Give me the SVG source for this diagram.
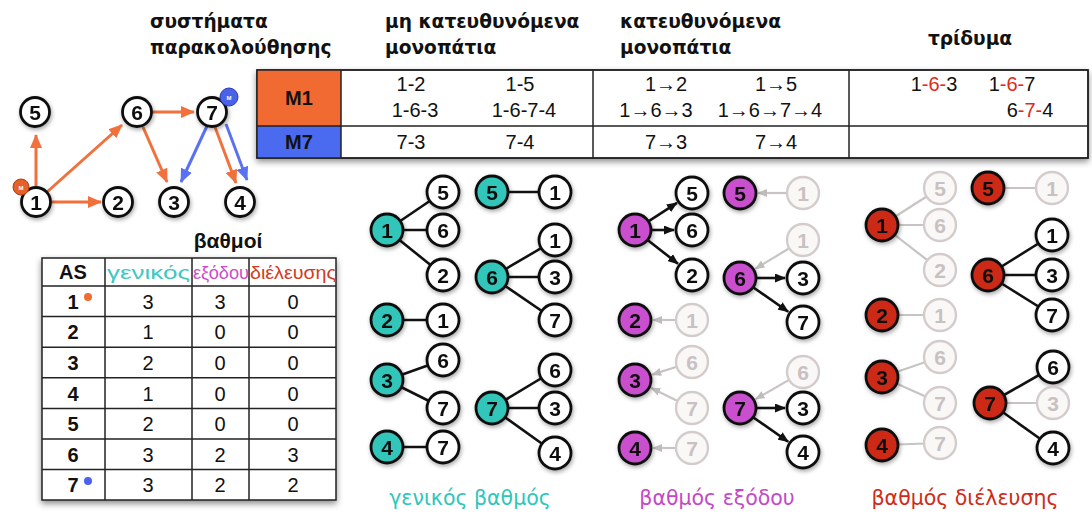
<svg xmlns="http://www.w3.org/2000/svg" width="1092" height="516" viewBox="0 0 1092 516">
<defs>
<style>
text{font-family:"Liberation Sans",Arial,sans-serif}
.h{font-family:"DejaVu Sans","Liberation Sans",sans-serif;font-weight:bold;font-size:18.6px;fill:#111}
.n circle{fill:#fff;stroke:#111;stroke-width:2.8}
.n text{font-weight:bold;font-size:21px;text-anchor:middle;fill:#111}
.f circle{fill:#faf7f7;stroke:#d4cccc;stroke-width:2.4}
.f text{font-weight:bold;font-size:21px;text-anchor:middle;fill:#c9c1c1}
.cy circle{fill:#31c6bb}
.pu circle{fill:#c94fcf}
.rd circle{fill:#cc2a14}
.tt{font-size:20px;text-anchor:middle;fill:#111}
.red{fill:#e02a1a}
.dt{font-size:20px;text-anchor:middle;fill:#111}
.oe{stroke:#f2703c;stroke-width:3;fill:none}
.be{stroke:#5a72f2;stroke-width:3;fill:none}
.ke{stroke:#111;stroke-width:2.6;fill:none}
.ge{stroke:#c8c4c4;stroke-width:2.2;fill:none}
.lab{font-family:"DejaVu Sans","Liberation Sans",sans-serif;font-size:20.5px;text-anchor:middle}
</style>
<filter id="sh" x="-50%" y="-50%" width="200%" height="200%"><feDropShadow dx="1" dy="2" stdDeviation="2" flood-color="#000" flood-opacity="0.35"/></filter>
<filter id="tsh" x="-5%" y="-20%" width="110%" height="150%"><feDropShadow dx="0" dy="3" stdDeviation="3" flood-color="#000" flood-opacity="0.45"/></filter>
<marker id="ao" viewBox="0 0 14 12" refX="13" refY="6" markerWidth="14" markerHeight="12" markerUnits="userSpaceOnUse" orient="auto"><path d="M0,0L14,6L0,12z" fill="#f2703c"/></marker>
<marker id="ab" viewBox="0 0 14 12" refX="13" refY="6" markerWidth="14" markerHeight="12" markerUnits="userSpaceOnUse" orient="auto"><path d="M0,0L14,6L0,12z" fill="#5a72f2"/></marker>
<marker id="ak" viewBox="0 0 11 9" refX="10" refY="4.5" markerWidth="11" markerHeight="9" markerUnits="userSpaceOnUse" orient="auto"><path d="M0,0L11,4.5L0,9z" fill="#111"/></marker>
<marker id="ag" viewBox="0 0 10 8" refX="9" refY="4" markerWidth="10" markerHeight="8" markerUnits="userSpaceOnUse" orient="auto"><path d="M0,0L10,4L0,8z" fill="#c0bcbc"/></marker>
</defs>
<rect width="1092" height="516" fill="#fff"/>

<!-- headers -->
<text class="h" x="150" y="28">συστήματα</text>
<text class="h" x="150" y="54">παρακολούθησης</text>
<text class="h" x="385" y="28">μη κατευθυνόμενα</text>
<text class="h" x="385" y="54">μονοπάτια</text>
<text class="h" x="620" y="28">κατευθυνόμενα</text>
<text class="h" x="620" y="54">μονοπάτια</text>
<text class="h" x="970" y="45" text-anchor="middle">τρίδυμα</text>

<!-- paths table -->
<g id="paths-table">
<rect x="257" y="70" width="831" height="88" fill="#fff" stroke="#222" stroke-width="1.5" filter="url(#tsh)"/>
<rect x="257" y="70" width="84" height="56" fill="#f06a32"/>
<rect x="257" y="126" width="84" height="32" fill="#4a6af0"/>
<g stroke="#222" stroke-width="1.5" fill="none">
<rect x="257" y="70" width="831" height="88"/>
<line x1="341" y1="70" x2="341" y2="158"/>
<line x1="593" y1="70" x2="593" y2="158"/>
<line x1="849" y1="70" x2="849" y2="158"/>
<line x1="257" y1="126" x2="1088" y2="126"/>
</g>
<text x="299" y="105" font-weight="bold" font-size="20" text-anchor="middle" fill="#111">M1</text>
<text x="299" y="149" font-weight="bold" font-size="20" text-anchor="middle" fill="#111">M7</text>
<text class="tt" x="411" y="91">1-2</text>
<text class="tt" x="520" y="91">1-5</text>
<text class="tt" x="415" y="117">1-6-3</text>
<text class="tt" x="524" y="117">1-6-7-4</text>
<text class="tt" x="411" y="149">7-3</text>
<text class="tt" x="520" y="149">7-4</text>
<text class="tt" x="666" y="91">1→2</text>
<text class="tt" x="776" y="91">1→5</text>
<text class="tt" x="656" y="117">1→6→3</text>
<text class="tt" x="770" y="117">1→6→7→4</text>
<text class="tt" x="666" y="149">7→3</text>
<text class="tt" x="776" y="149">7→4</text>
<text class="tt" x="934" y="91">1<tspan class="red">-6-</tspan>3</text>
<text class="tt" x="1012" y="91">1<tspan class="red">-6-</tspan>7</text>
<text class="tt" x="1030" y="117">6<tspan class="red">-7-</tspan>4</text>
</g>

<!-- top-left graph -->
<g id="monitor-connectors">
<line class="oe" x1="36" y1="186" x2="36" y2="135" marker-end="url(#ao)"/>
<line class="oe" x1="47" y1="192" x2="122" y2="125" marker-end="url(#ao)"/>
<line class="oe" x1="52" y1="202" x2="101" y2="202" marker-end="url(#ao)"/>
<line class="oe" x1="152" y1="112" x2="194" y2="112" marker-end="url(#ao)"/>
<line class="oe" x1="143" y1="127" x2="167" y2="182" marker-end="url(#ao)"/>
<line class="oe" x1="215" y1="127" x2="236" y2="183" marker-end="url(#ao)"/>
<line class="be" x1="207" y1="126" x2="181" y2="182" marker-end="url(#ab)"/>
<line class="be" x1="226" y1="124" x2="247" y2="180" marker-end="url(#ab)"/>
</g>
<g id="g5" class="n" filter="url(#sh)"><circle cx="35" cy="112" r="14.5"/><text x="35" y="119.5">5</text></g>
<g id="g6" class="n" filter="url(#sh)"><circle cx="137" cy="112" r="14.5"/><text x="137" y="119.5">6</text></g>
<g id="g7" class="n" filter="url(#sh)"><circle cx="212" cy="112" r="14.5"/><text x="212" y="119.5">7</text></g>
<g id="g1" class="n" filter="url(#sh)"><circle cx="36" cy="202" r="14.5"/><text x="36" y="209.5">1</text></g>
<g id="g2" class="n" filter="url(#sh)"><circle cx="118" cy="202" r="14.5"/><text x="118" y="209.5">2</text></g>
<g id="g3" class="n" filter="url(#sh)"><circle cx="174" cy="202" r="14.5"/><text x="174" y="209.5">3</text></g>
<g id="g4" class="n" filter="url(#sh)"><circle cx="240" cy="202" r="14.5"/><text x="240" y="209.5">4</text></g>
<g id="m1-badge"><circle cx="21" cy="187" r="8" fill="#e5602a" stroke="#b04010" stroke-width="1"/><text x="21" y="190" font-size="6" font-weight="bold" text-anchor="middle" fill="#fff">M</text></g>
<g id="m7-badge"><circle cx="229" cy="97" r="9" fill="#4a62e8" stroke="#2a3ab0" stroke-width="1"/><text x="229" y="100" font-size="6" font-weight="bold" text-anchor="middle" fill="#fff">M</text></g>

<!-- degree table -->
<g id="degree-table">
<text x="228" y="248" font-weight="bold" font-size="21" text-anchor="middle" fill="#111">βαθμοί</text>
<rect x="42" y="258" width="294" height="242" fill="#fff" stroke="#222" stroke-width="1.5" filter="url(#tsh)"/>
<g stroke="#222" stroke-width="1.5">
<line x1="105" y1="258" x2="105" y2="500"/>
<line x1="192" y1="258" x2="192" y2="500"/>
<line x1="249" y1="258" x2="249" y2="500"/>
<line x1="42" y1="286" x2="336" y2="286"/>
<line x1="42" y1="316.6" x2="336" y2="316.6"/>
<line x1="42" y1="347.2" x2="336" y2="347.2"/>
<line x1="42" y1="377.8" x2="336" y2="377.8"/>
<line x1="42" y1="408.4" x2="336" y2="408.4"/>
<line x1="42" y1="439" x2="336" y2="439"/>
<line x1="42" y1="469.6" x2="336" y2="469.6"/>
</g>
<text x="73" y="279" font-weight="bold" font-size="20" text-anchor="middle" fill="#111">AS</text>
<text x="107" y="279" font-size="19" textLength="83" lengthAdjust="spacingAndGlyphs" fill="#3ec8c0">γενικός</text>
<text x="193" y="279" font-size="18" textLength="56" lengthAdjust="spacingAndGlyphs" fill="#cc4ccc">εξόδου</text>
<text x="250" y="279" font-size="18" textLength="86" lengthAdjust="spacingAndGlyphs" fill="#d43a22">διέλευσης</text>
<g font-weight="bold" font-size="20" fill="#111" text-anchor="middle">
<text x="73" y="309">1</text><text x="73" y="339">2</text><text x="73" y="370">3</text><text x="73" y="401">4</text><text x="73" y="431">5</text><text x="73" y="462">6</text><text x="73" y="492">7</text>
</g>
<circle cx="88" cy="297" r="4" fill="#f06a32"/>
<circle cx="88" cy="481" r="4" fill="#4a62f0"/>
<text class="dt" x="148" y="309">3</text><text class="dt" x="220" y="309">3</text><text class="dt" x="293" y="309">0</text>
<text class="dt" x="148" y="339">1</text><text class="dt" x="220" y="339">0</text><text class="dt" x="293" y="339">0</text>
<text class="dt" x="148" y="370">2</text><text class="dt" x="220" y="370">0</text><text class="dt" x="293" y="370">0</text>
<text class="dt" x="148" y="401">1</text><text class="dt" x="220" y="401">0</text><text class="dt" x="293" y="401">0</text>
<text class="dt" x="148" y="431">2</text><text class="dt" x="220" y="431">0</text><text class="dt" x="293" y="431">0</text>
<text class="dt" x="148" y="462">3</text><text class="dt" x="220" y="462">2</text><text class="dt" x="293" y="462">3</text>
<text class="dt" x="148" y="492">3</text><text class="dt" x="220" y="492">2</text><text class="dt" x="293" y="492">2</text>
</g>

<!-- connectors of star graphs -->
<g id="star-connectors">
<!-- cyan -->
<line class="ke" x1="387" y1="230" x2="443" y2="192"/>
<line class="ke" x1="387" y1="230" x2="443" y2="230"/>
<line class="ke" x1="387" y1="230" x2="443" y2="275"/>
<line class="ke" x1="492" y1="192" x2="555" y2="192"/>
<line class="ke" x1="492" y1="277" x2="555" y2="240"/>
<line class="ke" x1="492" y1="277" x2="555" y2="277"/>
<line class="ke" x1="492" y1="277" x2="555" y2="320"/>
<line class="ke" x1="387" y1="320" x2="443" y2="320"/>
<line class="ke" x1="387" y1="380" x2="443" y2="360"/>
<line class="ke" x1="387" y1="380" x2="443" y2="408"/>
<line class="ke" x1="387" y1="447" x2="443" y2="447"/>
<line class="ke" x1="492" y1="408" x2="555" y2="370"/>
<line class="ke" x1="492" y1="408" x2="555" y2="408"/>
<line class="ke" x1="492" y1="408" x2="555" y2="453"/>
<!-- purple -->
<line class="ke" x1="648.4" y1="221.3" x2="677" y2="202.8" marker-end="url(#ak)"/>
<line class="ke" x1="651" y1="230" x2="674" y2="230" marker-end="url(#ak)"/>
<line class="ke" x1="647.6" y1="239.9" x2="678" y2="263.8" marker-end="url(#ak)"/>
<line class="ge" x1="787" y1="193" x2="758" y2="193" marker-end="url(#ag)"/>
<line class="ge" x1="789.3" y1="248.3" x2="755.4" y2="268.7" marker-end="url(#ag)"/>
<line class="ke" x1="756" y1="278" x2="785" y2="278" marker-end="url(#ak)"/>
<line class="ke" x1="753.1" y1="287.2" x2="788.2" y2="311.7" marker-end="url(#ak)"/>
<line class="ge" x1="676" y1="320" x2="653" y2="320" marker-end="url(#ag)"/>
<line class="ge" x1="676.7" y1="366.8" x2="652.2" y2="374.6" marker-end="url(#ag)"/>
<line class="ge" x1="677.6" y1="400.9" x2="651.2" y2="387.9" marker-end="url(#ag)"/>
<line class="ge" x1="676" y1="448" x2="653" y2="448" marker-end="url(#ag)"/>
<line class="ge" x1="789.1" y1="379.9" x2="755.6" y2="399.1" marker-end="url(#ag)"/>
<line class="ke" x1="756" y1="408" x2="785" y2="408" marker-end="url(#ak)"/>
<line class="ke" x1="753.1" y1="417.2" x2="788.2" y2="441.7" marker-end="url(#ak)"/>
<!-- red -->
<line class="ge" x1="882" y1="225" x2="940" y2="188"/>
<line class="ge" x1="882" y1="225" x2="940" y2="225"/>
<line class="ge" x1="882" y1="225" x2="940" y2="270"/>
<line class="ge" x1="988" y1="188" x2="1052" y2="188"/>
<line class="ke" x1="988" y1="275" x2="1052" y2="235"/>
<line class="ke" x1="988" y1="275" x2="1052" y2="275"/>
<line class="ke" x1="988" y1="275" x2="1052" y2="315"/>
<line class="ge" x1="882" y1="315" x2="940" y2="315"/>
<line class="ge" x1="882" y1="377" x2="940" y2="357"/>
<line class="ge" x1="882" y1="377" x2="940" y2="403"/>
<line class="ge" x1="882" y1="445" x2="940" y2="443"/>
<line class="ke" x1="990" y1="403" x2="1053" y2="367"/>
<line class="ge" x1="990" y1="403" x2="1053" y2="403"/>
<line class="ke" x1="990" y1="403" x2="1053" y2="448"/>
</g>

<!-- cyan nodes -->
<g id="c-1" class="n cy" filter="url(#sh)"><circle cx="387" cy="230" r="16"/><text x="387" y="237.5">1</text></g>
<g id="c-1-5" class="n" filter="url(#sh)"><circle cx="443" cy="192" r="16"/><text x="443" y="199.5">5</text></g>
<g id="c-1-6" class="n" filter="url(#sh)"><circle cx="443" cy="230" r="16"/><text x="443" y="237.5">6</text></g>
<g id="c-1-2" class="n" filter="url(#sh)"><circle cx="443" cy="275" r="16"/><text x="443" y="282.5">2</text></g>
<g id="c-5" class="n cy" filter="url(#sh)"><circle cx="492" cy="192" r="16"/><text x="492" y="199.5">5</text></g>
<g id="c-5-1" class="n" filter="url(#sh)"><circle cx="555" cy="192" r="16"/><text x="555" y="199.5">1</text></g>
<g id="c-6" class="n cy" filter="url(#sh)"><circle cx="492" cy="277" r="16"/><text x="492" y="284.5">6</text></g>
<g id="c-6-1" class="n" filter="url(#sh)"><circle cx="555" cy="240" r="16"/><text x="555" y="247.5">1</text></g>
<g id="c-6-3" class="n" filter="url(#sh)"><circle cx="555" cy="277" r="16"/><text x="555" y="284.5">3</text></g>
<g id="c-6-7" class="n" filter="url(#sh)"><circle cx="555" cy="320" r="16"/><text x="555" y="327.5">7</text></g>
<g id="c-2" class="n cy" filter="url(#sh)"><circle cx="387" cy="320" r="16"/><text x="387" y="327.5">2</text></g>
<g id="c-2-1" class="n" filter="url(#sh)"><circle cx="443" cy="320" r="16"/><text x="443" y="327.5">1</text></g>
<g id="c-3" class="n cy" filter="url(#sh)"><circle cx="387" cy="380" r="16"/><text x="387" y="387.5">3</text></g>
<g id="c-3-6" class="n" filter="url(#sh)"><circle cx="443" cy="360" r="16"/><text x="443" y="367.5">6</text></g>
<g id="c-3-7" class="n" filter="url(#sh)"><circle cx="443" cy="408" r="16"/><text x="443" y="415.5">7</text></g>
<g id="c-4" class="n cy" filter="url(#sh)"><circle cx="387" cy="447" r="16"/><text x="387" y="454.5">4</text></g>
<g id="c-4-7" class="n" filter="url(#sh)"><circle cx="443" cy="447" r="16"/><text x="443" y="454.5">7</text></g>
<g id="c-7" class="n cy" filter="url(#sh)"><circle cx="492" cy="408" r="16"/><text x="492" y="415.5">7</text></g>
<g id="c-7-6" class="n" filter="url(#sh)"><circle cx="555" cy="370" r="16"/><text x="555" y="377.5">6</text></g>
<g id="c-7-3" class="n" filter="url(#sh)"><circle cx="555" cy="408" r="16"/><text x="555" y="415.5">3</text></g>
<g id="c-7-4" class="n" filter="url(#sh)"><circle cx="555" cy="453" r="16"/><text x="555" y="460.5">4</text></g>
<text class="lab" x="470" y="505" fill="#2fc6bb">γενικός βαθμός</text>

<!-- purple nodes -->
<g id="p-1" class="n pu" filter="url(#sh)"><circle cx="635" cy="230" r="16"/><text x="635" y="237.5">1</text></g>
<g id="p-1-5" class="n" filter="url(#sh)"><circle cx="692" cy="193" r="16"/><text x="692" y="200.5">5</text></g>
<g id="p-1-6" class="n" filter="url(#sh)"><circle cx="692" cy="230" r="16"/><text x="692" y="237.5">6</text></g>
<g id="p-1-2" class="n" filter="url(#sh)"><circle cx="692" cy="275" r="16"/><text x="692" y="282.5">2</text></g>
<g id="p-5" class="n pu" filter="url(#sh)"><circle cx="740" cy="193" r="16"/><text x="740" y="200.5">5</text></g>
<g id="p-5-1" class="f"><circle cx="803" cy="193" r="16"/><text x="803" y="200.5">1</text></g>
<g id="p-6" class="n pu" filter="url(#sh)"><circle cx="740" cy="278" r="16"/><text x="740" y="285.5">6</text></g>
<g id="p-6-1" class="f"><circle cx="803" cy="240" r="16"/><text x="803" y="247.5">1</text></g>
<g id="p-6-3" class="n" filter="url(#sh)"><circle cx="803" cy="278" r="16"/><text x="803" y="285.5">3</text></g>
<g id="p-6-7" class="n" filter="url(#sh)"><circle cx="803" cy="322" r="16"/><text x="803" y="329.5">7</text></g>
<g id="p-2" class="n pu" filter="url(#sh)"><circle cx="635" cy="320" r="16"/><text x="635" y="327.5">2</text></g>
<g id="p-2-1" class="f"><circle cx="692" cy="320" r="16"/><text x="692" y="327.5">1</text></g>
<g id="p-3" class="n pu" filter="url(#sh)"><circle cx="635" cy="380" r="16"/><text x="635" y="387.5">3</text></g>
<g id="p-3-6" class="f"><circle cx="692" cy="362" r="16"/><text x="692" y="369.5">6</text></g>
<g id="p-3-7" class="f"><circle cx="692" cy="408" r="16"/><text x="692" y="415.5">7</text></g>
<g id="p-4" class="n pu" filter="url(#sh)"><circle cx="635" cy="448" r="16"/><text x="635" y="455.5">4</text></g>
<g id="p-4-7" class="f"><circle cx="692" cy="448" r="16"/><text x="692" y="455.5">7</text></g>
<g id="p-7" class="n pu" filter="url(#sh)"><circle cx="740" cy="408" r="16"/><text x="740" y="415.5">7</text></g>
<g id="p-7-6" class="f"><circle cx="803" cy="372" r="16"/><text x="803" y="379.5">6</text></g>
<g id="p-7-3" class="n" filter="url(#sh)"><circle cx="803" cy="408" r="16"/><text x="803" y="415.5">3</text></g>
<g id="p-7-4" class="n" filter="url(#sh)"><circle cx="803" cy="452" r="16"/><text x="803" y="459.5">4</text></g>
<text class="lab" x="717" y="505" fill="#c448c8">βαθμός εξόδου</text>

<!-- red nodes -->
<g id="r-1" class="n rd" filter="url(#sh)"><circle cx="882" cy="225" r="16"/><text x="882" y="232.5">1</text></g>
<g id="r-1-5" class="f"><circle cx="940" cy="188" r="16"/><text x="940" y="195.5">5</text></g>
<g id="r-1-6" class="f"><circle cx="940" cy="225" r="16"/><text x="940" y="232.5">6</text></g>
<g id="r-1-2" class="f"><circle cx="940" cy="270" r="16"/><text x="940" y="277.5">2</text></g>
<g id="r-5" class="n rd" filter="url(#sh)"><circle cx="988" cy="188" r="16"/><text x="988" y="195.5">5</text></g>
<g id="r-5-1" class="f"><circle cx="1052" cy="188" r="16"/><text x="1052" y="195.5">1</text></g>
<g id="r-6" class="n rd" filter="url(#sh)"><circle cx="988" cy="275" r="16"/><text x="988" y="282.5">6</text></g>
<g id="r-6-1" class="n" filter="url(#sh)"><circle cx="1052" cy="235" r="16"/><text x="1052" y="242.5">1</text></g>
<g id="r-6-3" class="n" filter="url(#sh)"><circle cx="1052" cy="275" r="16"/><text x="1052" y="282.5">3</text></g>
<g id="r-6-7" class="n" filter="url(#sh)"><circle cx="1052" cy="315" r="16"/><text x="1052" y="322.5">7</text></g>
<g id="r-2" class="n rd" filter="url(#sh)"><circle cx="882" cy="315" r="16"/><text x="882" y="322.5">2</text></g>
<g id="r-2-1" class="f"><circle cx="940" cy="315" r="16"/><text x="940" y="322.5">1</text></g>
<g id="r-3" class="n rd" filter="url(#sh)"><circle cx="882" cy="377" r="16"/><text x="882" y="384.5">3</text></g>
<g id="r-3-6" class="f"><circle cx="940" cy="357" r="16"/><text x="940" y="364.5">6</text></g>
<g id="r-3-7" class="f"><circle cx="940" cy="403" r="16"/><text x="940" y="410.5">7</text></g>
<g id="r-4" class="n rd" filter="url(#sh)"><circle cx="882" cy="445" r="16"/><text x="882" y="452.5">4</text></g>
<g id="r-4-7" class="f"><circle cx="940" cy="443" r="16"/><text x="940" y="450.5">7</text></g>
<g id="r-7" class="n rd" filter="url(#sh)"><circle cx="990" cy="403" r="16"/><text x="990" y="410.5">7</text></g>
<g id="r-7-6" class="n" filter="url(#sh)"><circle cx="1053" cy="367" r="16"/><text x="1053" y="374.5">6</text></g>
<g id="r-7-3" class="f"><circle cx="1053" cy="403" r="16"/><text x="1053" y="410.5">3</text></g>
<g id="r-7-4" class="n" filter="url(#sh)"><circle cx="1053" cy="448" r="16"/><text x="1053" y="455.5">4</text></g>
<text class="lab" x="965" y="505" fill="#d02a18">βαθμός διέλευσης</text>
</svg>
